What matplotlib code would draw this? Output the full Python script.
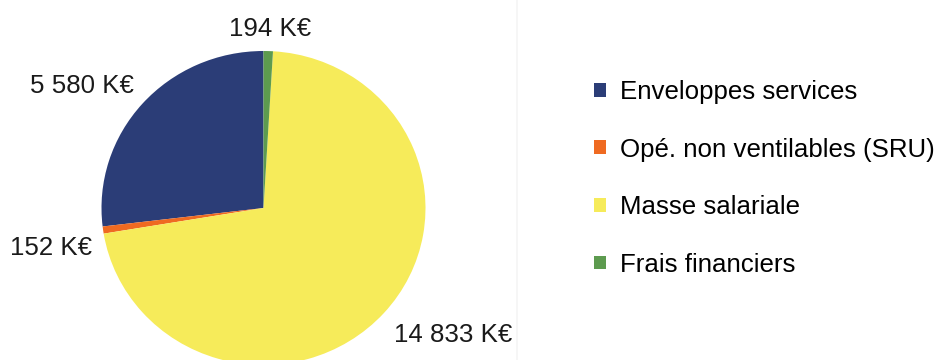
import matplotlib
matplotlib.use('Agg')
import matplotlib.pyplot as plt
from matplotlib.patches import Patch
from matplotlib.lines import Line2D

# ---- data ----
categories = ['Enveloppes services', 'Opé. non ventilables (SRU)',
              'Masse salariale', 'Frais financiers']
values = [5580, 152, 14833, 194]          # K€
value_labels = ['5 580 K€', '152 K€', '14 833 K€', '194 K€']

COLORS = ['#2b3d77', '#ef6a21', '#f6eb5a', '#5d9b4f']
# label positions around the pie (in pie radius units)
LABEL_POS = [(-1.12, 0.78), (-1.31, -0.255), (1.17, -0.81), (0.04, 1.14)]
FS = 18.6

plt.rcParams.update({
    'font.family': ['Liberation Sans', 'DejaVu Sans'],
    'font.size': FS,
    'figure.facecolor': 'white',
})

fig = plt.figure(figsize=(9.37, 3.6), dpi=100)

# pie axes: centre ~ (263, 208) px, radius ~ 160 px
cx, cy, rx, ry = 263.5, 208, 162, 157
ax = fig.add_axes([(cx - rx) / 937, (360 - cy - ry) / 360, 2 * rx / 937, 2 * ry / 360])
wedges, _ = ax.pie(values, colors=COLORS, startangle=90, counterclock=True,
                   radius=1, wedgeprops=dict(linewidth=0))
ax.set_aspect('auto')
ax.set_xlim(-1, 1)
ax.set_ylim(-1, 1)
ax.axis('off')

for txt, (x, y) in zip(value_labels, LABEL_POS):
    ax.text(x, y, txt, ha='center', va='center', fontsize=FS, color='#1a1a1a',
            clip_on=False)

# faint separator line (scan artefact in original)
fig.add_artist(Line2D([517 / 937, 517 / 937], [0, 1], color='#f5f5f5',
                      linewidth=1.2, transform=fig.transFigure))

handles = [Patch(facecolor=c, edgecolor='none', label=l)
           for c, l in zip(COLORS, categories)]
fig.legend(handles=handles, loc='upper left', bbox_to_anchor=(594 / 937, 1 - 80 / 360),
           frameon=False, fontsize=FS, handlelength=0.45, handleheight=0.45,
           handletextpad=0.55, labelspacing=1.3, borderpad=0, borderaxespad=0)

fig.savefig('out.png', dpi=100, facecolor='white')
